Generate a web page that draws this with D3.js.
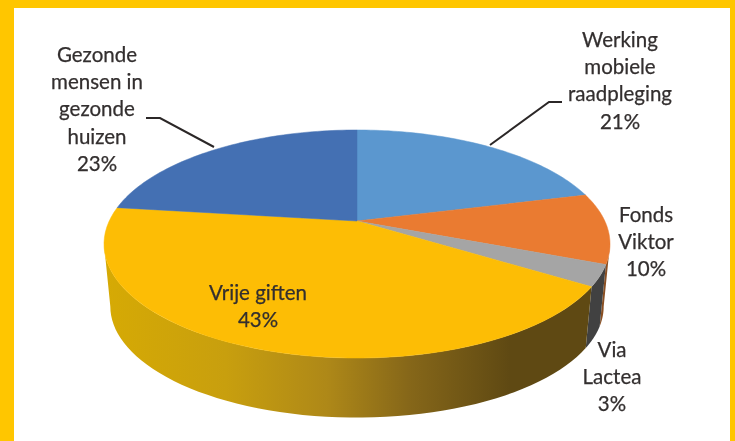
<!DOCTYPE html>
<html>
<head>
<meta charset="utf-8">
<script src="https://cdn.jsdelivr.net/npm/d3@7"></script>
<style>
html, body { margin: 0; padding: 0; background: #fff; }
svg { display: block; }
text { font-family: Lato, sans-serif; font-size: 20.5px; fill: #332f2f; stroke: #332f2f; stroke-width: 0.25; text-anchor: middle; }
.leader { fill: none; stroke: #2b2727; stroke-width: 2; }
.soft { filter: blur(0.45px); }
</style>
</head>
<body>
<svg id="chart" width="735" height="441"></svg>
<script>
// slices, clockwise from 12 o'clock
var categories = ["Werking mobiele raadpleging", "Fonds Viktor", "Via Lactea", "Vrije giften", "Gezonde mensen in gezonde huizen"];
var percentages = [21, 10, 3, 43, 23];
var sliceColors = ["#5b97cf", "#ea7b31", "#a5a5a5", "#fdbd05", "#4470b3"];

// label text, one entry per line, same order as categories
var labelLines = [
	["Werking", "mobiele", "raadpleging", "21%"],
	["Fonds", "Viktor", "10%"],
	["Via", "Lactea", "3%"],
	["Vrije giften", "43%"],
	["Gezonde", "mensen in", "gezonde", "huizen", "23%"]
];
var labelX = [620, 646, 612, 258, 97];
var labelY = [47, 222, 357, 300, 62];
var LINE_H = 27.2;

var CX = 357, CY = 221;
var PIE_A = 247.8, PIE_B = 109.4, PERSPECTIVE = 0.2018;
var BOTTOM_SCALE = 0.975, DEPTH = 63;

var svg = d3.select("#chart");

// yellow frame, open at the bottom
svg.append("rect").attr("width", 735).attr("height", 441).attr("fill", "#ffc600");
svg.append("rect").attr("x", 14).attr("y", 8).attr("width", 716).attr("height", 433).attr("fill", "#fff");

var defs = svg.append("defs");
var sideGrad = defs.append("linearGradient")
	.attr("id", "sideYellow")
	.attr("gradientUnits", "userSpaceOnUse")
	.attr("x1", 104).attr("x2", 510).attr("y1", 0).attr("y2", 0);
[[0, "#d6aa04"], [0.3, "#c89f0e"], [0.55, "#ae8818"], [0.75, "#866719"], [1, "#5f4913"]].forEach(function(s) {
	sideGrad.append("stop").attr("offset", s[0]).attr("stop-color", s[1]);
});

var xScale = d3.scaleLinear().domain([0, 1]).range([0, PIE_A]);
var yScale = d3.scaleLinear().domain([0, 1]).range([0, PIE_B]);

// angle on the disc to screen, with the near edge drawn larger
function project(angle, scale, dy)
{
	var u = Math.sin(angle), v = -Math.cos(angle);
	var w = 1 - PERSPECTIVE * v;
	return [
		CX + scale * xScale(u / w),
		CY + dy + scale * yScale(v / w)
	];
}

function arcPoints(a0, a1, scale, dy)
{
	return d3.range(0, 61).map(function(i) {
		return project(a0 + (a1 - a0) * i / 60, scale, dy);
	});
}

var line = d3.line();
var arcs = d3.pie().sort(null).value(function(d) { return d; })(percentages);

// the picture is a soft scan, so everything but the frame gets a slight blur
var chart = svg.append("g").attr("class", "soft");

// the silhouette is where the rim turns away, at v = PERSPECTIVE
var silhouette = Math.acos(-PERSPECTIVE);
var LEFT_EDGE = 2 * Math.PI - silhouette, RIGHT_EDGE = silhouette;

// front wall, only the part of each slice facing us
var wallGroup = chart.append("g");
var wallColors = ["none", "#8a4f22", "#414141", "url(#sideYellow)", "none"];
arcs.forEach(function(d, i) {
	var a0 = Math.max(d.startAngle, RIGHT_EDGE), a1 = Math.min(d.endAngle, LEFT_EDGE);
	if (a1 <= a0 || wallColors[i] == "none") return;
	var pts = arcPoints(a0, a1, 1, 0).concat(arcPoints(a1, a0, BOTTOM_SCALE, DEPTH));
	wallGroup.append("path")
		.attr("d", line(pts) + "Z")
		.attr("fill", wallColors[i]);
});

// top face
var faceGroup = chart.append("g");
arcs.forEach(function(d, i) {
	var pts = [[CX, CY]].concat(arcPoints(d.startAngle, d.endAngle, 1, 0));
	faceGroup.append("path")
		.attr("d", line(pts) + "Z")
		.attr("fill", sliceColors[i])
		.attr("stroke", sliceColors[i])
		.attr("stroke-width", 0.5)
		.attr("data-name", categories[i]);
});

// leader lines
chart.append("path").attr("class", "leader").attr("d", line([[146, 118], [160, 118], [214, 147]]));
chart.append("path").attr("class", "leader").attr("d", line([[490, 145], [549, 102], [562, 102]]));

// labels
labelLines.forEach(function(lines, i) {
	var t = chart.append("text").attr("x", labelX[i]).attr("y", labelY[i]);
	lines.forEach(function(s, j) {
		t.append("tspan")
			.attr("x", labelX[i])
			.attr("y", labelY[i] + j * LINE_H)
			.text(s);
	});
});
</script>
</body>
</html>
